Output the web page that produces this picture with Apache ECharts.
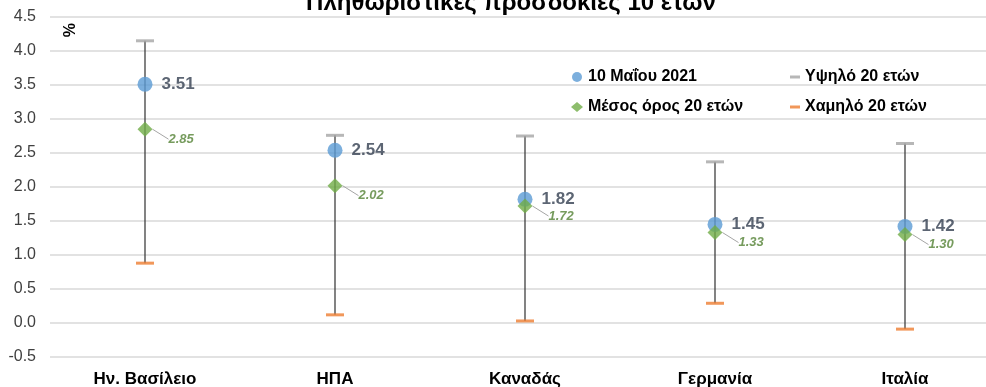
<!DOCTYPE html>
<html>
<head>
<meta charset="utf-8">
<script src="https://cdn.jsdelivr.net/npm/echarts@6/dist/echarts.min.js"></script>
<style>
  html, body { margin: 0; padding: 0; background: #fff; }
  #chart { width: 986px; height: 387px; }
</style>
</head>
<body>
<div id="chart"></div>
<script>
const countries = ["Ην. Βασίλειο", "ΗΠΑ", "Καναδάς", "Γερμανία", "Ιταλία"];
const current = [3.51, 2.54, 1.82, 1.45, 1.42];
const average = [2.85, 2.02, 1.72, 1.33, 1.30];
const high = [4.15, 2.76, 2.75, 2.37, 2.64];
const low = [0.88, 0.12, 0.03, 0.29, -0.09];

const font = "Liberation Sans, Arial, sans-serif";
let myChart = echarts.init(document.getElementById("chart"), null, { renderer: "canvas" });

// vertical range line per country
const rangeData = countries.map((c, i) => [i, low[i], high[i]]);

let option = {
  animation: false,
  title: {
    text: "Πληθωριστικές προσδοκίες 10 ετών",
    left: 506,
    textAlign: "center",
    top: -14,
    textStyle: { fontFamily: font, fontSize: 24, fontWeight: "bold", color: "#000" },
  },
  graphic: [
    {
      type: "text",
      left: 63,
      top: 23,
      rotation: Math.PI / 2,
      style: { text: "%", font: "bold 16px " + font, fill: "#000" },
    },
  ],
  legend: [
    {
      orient: "vertical",
      left: 566,
      top: 64,
      itemGap: 14,
      itemWidth: 12,
      itemHeight: 10,
      textStyle: { fontFamily: font, fontSize: 16, fontWeight: "bold", color: "#000" },
      data: [
        { name: "10 Μαΐου 2021", icon: "circle" },
        { name: "Μέσος όρος 20 ετών", icon: "diamond" },
      ],
    },
    {
      orient: "vertical",
      left: 785,
      top: 64,
      itemGap: 14,
      itemWidth: 10,
      itemHeight: 3,
      textStyle: { fontFamily: font, fontSize: 16, fontWeight: "bold", color: "#000" },
      data: [
        { name: "Υψηλό 20 ετών", icon: "rect" },
        { name: "Χαμηλό 20 ετών", icon: "rect" },
      ],
    },
  ],
  grid: { left: 50, width: 950, top: 17, bottom: 30, outerBoundsMode: "none", containLabel: false },
  xAxis: {
    type: "category",
    data: countries,
    axisLine: { show: false },
    axisTick: { show: false },
    axisLabel: { fontFamily: font, fontSize: 17, fontWeight: "bold", color: "#000", margin: 14 },
  },
  yAxis: {
    type: "value",
    min: -0.5,
    max: 4.5,
    interval: 0.5,
    axisLabel: {
      fontFamily: font,
      fontSize: 16,
      color: "#404040",
      margin: 14,
      formatter: (v) => v.toFixed(1),
    },
    splitLine: { lineStyle: { color: "#d9d9d9", width: 1.5 } },
  },
  series: [
    {
      type: "custom",
      name: "range",
      data: rangeData,
      z: 1,
      renderItem: (params, api) => {
        let p1 = api.coord([api.value(0), api.value(1)]);
        let p2 = api.coord([api.value(0), api.value(2)]);
        return {
          type: "line",
          shape: { x1: p1[0], y1: p1[1], x2: p2[0], y2: p2[1] },
          style: { stroke: "#404040", lineWidth: 1.3 },
        };
      },
    },
    {
      type: "scatter",
      name: "Υψηλό 20 ετών",
      data: high,
      symbol: "rect",
      symbolSize: [18, 3],
      itemStyle: { color: "#a5a5a5" },
      z: 2,
    },
    {
      type: "scatter",
      name: "Χαμηλό 20 ετών",
      data: low,
      symbol: "rect",
      symbolSize: [18, 3],
      itemStyle: { color: "#ed7d31" },
      z: 2,
    },
    {
      type: "scatter",
      name: "10 Μαΐου 2021",
      data: current,
      symbol: "circle",
      symbolSize: 15,
      itemStyle: { color: "#5b9bd5" },
      z: 3,
      label: {
        show: true,
        position: "right",
        distance: 9,
        fontFamily: font,
        fontSize: 17,
        fontWeight: "bold",
        color: "#333f50",
        formatter: (p) => p.value.toFixed(2),
      },
    },
    {
      type: "scatter",
      name: "Μέσος όρος 20 ετών",
      data: average,
      symbol: "diamond",
      symbolSize: 15,
      itemStyle: { color: "#70ad47" },
      z: 4,
      label: {
        show: true,
        position: "right",
        distance: 4,
        fontFamily: font,
        fontSize: 13,
        fontStyle: "italic",
        fontWeight: "bold",
        color: "#548235",
        formatter: (p) => p.value.toFixed(2),
      },
      labelLayout: { dx: 12, dy: 10 },
      labelLine: { show: true, lineStyle: { color: "#a5a5a5", width: 1 } },
    },
  ],
};

myChart.setOption(option);
window.addEventListener("resize", myChart.resize);
</script>
</body>
</html>
